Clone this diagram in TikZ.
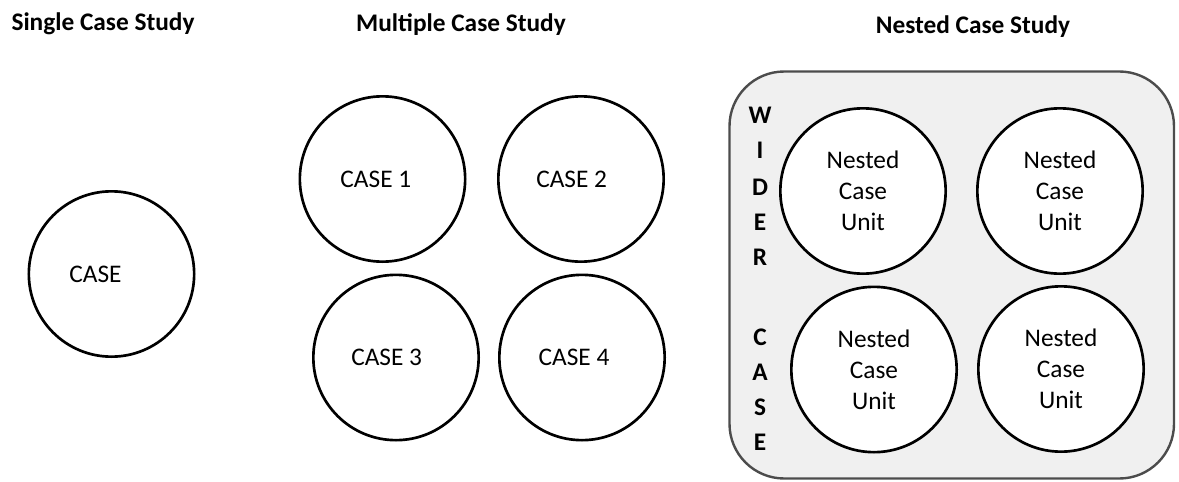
\documentclass[tikz,border=0pt]{standalone}
\usepackage{fontspec}
\setmainfont{Carlito}
\usetikzlibrary{positioning}
\tikzset{
    %Define standard look of the circles
    casecircle/.style={
      circle,
      draw=black, line width=2pt,
      fill=white,
      minimum size=124pt},
    casetext/.style={
      font=\fontsize{19}{23}\selectfont,
      text centered},
    unittext/.style={
      font=\fontsize{19}{23.3}\selectfont,
      align=center},
    heading/.style={
      font=\fontsize{19}{23}\selectfont\bfseries},
    widerbox/.style={
      draw=black!70, line width=1.8pt,
      fill=black!6,
      rounded corners=41pt},
    widerletter/.style={
      font=\fontsize{19}{23}\selectfont\bfseries}
}
\begin{document}
\begin{tikzpicture}[x=0.75pt,y=-0.75pt]
\useasboundingbox (0,0) rectangle (1179,482);
% headings
\node [heading] (hsingle) at (103,24) {Single Case Study};
\node [heading] (hmulti) at (461,25) {Multiple Case Study};
\node [heading] (hnested) at (973,27) {Nested Case Study};
% single case
\node [casecircle] (single) at (111.5,274) {};
\node [casetext] at ([xshift=-12pt]single.center) {CASE};
% multiple case
\node [casecircle] (case1) at (382.5,179) {};
\node [casecircle] (case2) at (581,179) {};
\node [casecircle] (case3) at (396,357.5) {};
\node [casecircle] (case4) at (582,357.5) {};
\node [casetext] at ([xshift=-5pt]case1.center) {CASE 1};
\node [casetext] at ([xshift=-7pt]case2.center) {CASE 2};
\node [casetext] at ([xshift=-7pt]case3.center) {CASE 3};
\node [casetext] at ([xshift=-6pt]case4.center) {CASE 4};
% nested case
\draw [widerbox] (729.5,71.5) rectangle (1174,478.5);
\foreach \l/\y [count=\i] in {W/115,I/150,D/187,E/222,R/257,C/337,A/372,S/407,E/442}
  \node [widerletter] (wl\i) at (760,\y) {\l};
\node [casecircle, unittext] (unit1) at (863,191) {Nested\\Case\\Unit};
\node [casecircle, unittext] (unit2) at (1060,191) {Nested\\Case\\Unit};
\node [casecircle, unittext] (unit3) at (874,369.5) {Nested\\Case\\Unit};
\node [casecircle, unittext] (unit4) at (1061,369) {Nested\\Case\\Unit};
\end{tikzpicture}
\end{document}
